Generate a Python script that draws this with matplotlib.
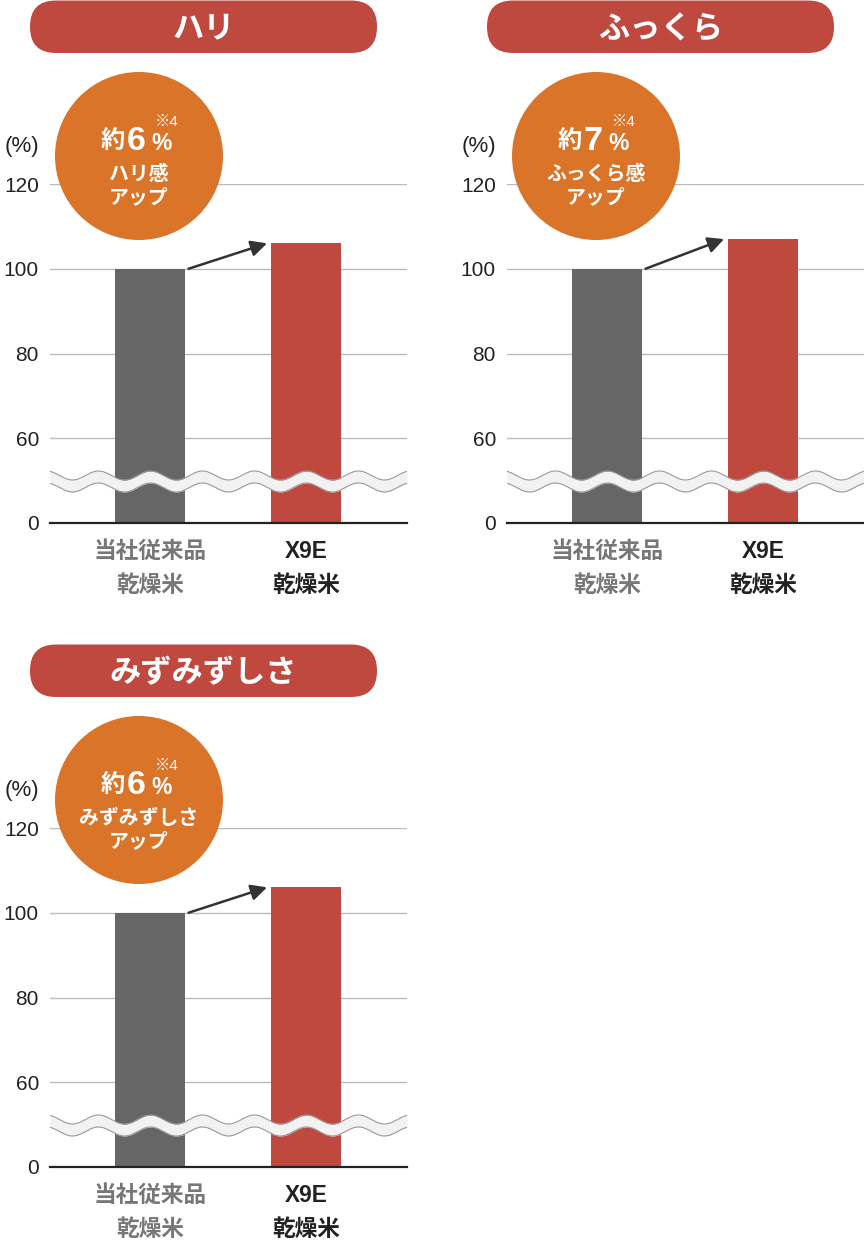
import numpy as np
import matplotlib
matplotlib.use('Agg')
import matplotlib.pyplot as plt
from matplotlib.patches import FancyBboxPatch, Circle

plt.rcParams['font.family'] = ['Liberation Sans', 'Noto Sans CJK JP', 'DejaVu Sans']

# data
categories = ['当社従来品\n乾燥米', 'X9E\n乾燥米']
titles = ['ハリ', 'ふっくら', 'みずみずしさ']
values_hari = [100, 106]
values_fukkura = [100, 107]
values_mizu = [100, 106]
gain_labels = ['6', '7', '6']
gain_words = ['ハリ感', 'ふっくら感', 'みずみずしさ']
yticks = [0, 60, 80, 100, 120]

W, H = 864, 1240
GRAY = '#666666'
RED = '#C0493F'
ORANGE = '#D97428'


def fwd(v):
    v = np.asarray(v, dtype=float)
    return np.where(v >= 60, v - 40, v / 3)


def inv(d):
    d = np.asarray(d, dtype=float)
    return np.where(d >= 20, d + 40, d * 3)


def px_rect(x0, y0, x1, y1):
    return [x0 / W, 1 - y1 / H, (x1 - x0) / W, (y1 - y0) / H]


fig = plt.figure(figsize=(W / 100, H / 100), dpi=100)
over = fig.add_axes([0, 0, 1, 1], zorder=10)
over.set_xlim(0, W)
over.set_ylim(H, 0)
over.axis('off')

panels = [(0, 0), (457, 0), (0, 644)]
all_values = [values_hari, values_fukkura, values_mizu]
bw = 0.45

for i, ((ox, oy), vals) in enumerate(zip(panels, all_values)):
    ax = fig.add_axes(px_rect(50 + ox, 184 + oy, 407 + ox, 523 + oy))
    ax.set_yscale('function', functions=(fwd, inv))
    ax.set_ylim(0, 120)
    ax.set_xlim(-0.646, 1.65)
    ax.bar([0, 1], vals, width=bw, color=[GRAY, RED], zorder=2)
    ax.set_yticks(yticks)
    ax.set_yticklabels([str(t) for t in yticks])
    ax.yaxis.set_minor_locator(plt.NullLocator())
    ax.tick_params(axis='y', length=0, pad=8, labelsize=15, labelcolor='#222222')
    ax.set_xticks([0, 1])
    ax.set_xticklabels(categories, fontsize=16.3, fontweight='bold', linespacing=1.65)
    ax.tick_params(axis='x', length=0, pad=12)
    ax.get_xticklabels()[0].set_color('#777777')
    ax.get_xticklabels()[1].set_color('#222222')
    for t in yticks[1:]:
        ax.axhline(t, color='#bbbbbb', lw=1, zorder=1)
    for s in ['left', 'right', 'top']:
        ax.spines[s].set_visible(False)
    ax.spines['bottom'].set_color('#222222')
    ax.spines['bottom'].set_linewidth(1.6)
    ax.spines['bottom'].set_zorder(5)

    # arrow between bar tops
    ax.annotate('', xy=(1 - bw / 2 - 0.025, vals[1]), xytext=(bw / 2 + 0.02, vals[0]),
                arrowprops=dict(arrowstyle='-|>', color='#333333', lw=1.8,
                                mutation_scale=24, shrinkA=0, shrinkB=0), zorder=4)

    # broken axis wave band
    xs = np.linspace(0, 357, 400)
    yc = 481.5 - 4.5 * np.cos(2 * np.pi * (xs - 100.5) / 52)
    top = (523 - (yc - 6)) / 339
    bot = (523 - (yc + 6)) / 339
    xf = xs / 357
    ax.fill_between(xf, bot, top, transform=ax.transAxes, color='#f2f2f2', lw=0, zorder=3)
    ax.plot(xf, top, transform=ax.transAxes, color='#999999', lw=0.8, zorder=3)
    ax.plot(xf, bot, transform=ax.transAxes, color='#999999', lw=0.8, zorder=3)

    # (%) label
    over.text(22 + ox, 152 + oy, '(%)', ha='center', va='baseline', fontsize=16, color='#222222')

    # title pill
    over.add_patch(FancyBboxPatch((30 + ox, oy + 0.5), 347, 52.5,
                                  boxstyle='round,pad=0,rounding_size=26',
                                  fc=RED, ec='none'))
    over.text(203.5 + ox, 30 + oy, titles[i], ha='center', va='center',
              fontsize=22.5, fontweight='bold', color='white')

    # orange badge
    cx, cy = 139 + ox, 156 + oy
    over.add_patch(Circle((cx, cy), 84, fc=ORANGE, ec='none'))
    over.text(cx - 26, cy - 8, '約', ha='center', va='baseline', fontsize=17.5,
              fontweight='bold', color='white')
    over.text(cx - 3, cy - 6, gain_labels[i], ha='center', va='baseline', fontsize=24.5,
              fontweight='bold', color='white')
    over.text(cx + 23, cy - 6, '%', ha='center', va='baseline', fontsize=16.5,
              fontweight='bold', color='white')
    over.text(cx + 28, cy - 30, '※4', ha='center', va='baseline', fontsize=11,
              color='white')
    over.text(cx, cy + 18, gain_words[i], ha='center', va='center', fontsize=14.3,
              fontweight='bold', color='white')
    over.text(cx, cy + 42, 'アップ', ha='center', va='center', fontsize=14.3,
              fontweight='bold', color='white')

fig.savefig('out.png', dpi=100, facecolor='white')
